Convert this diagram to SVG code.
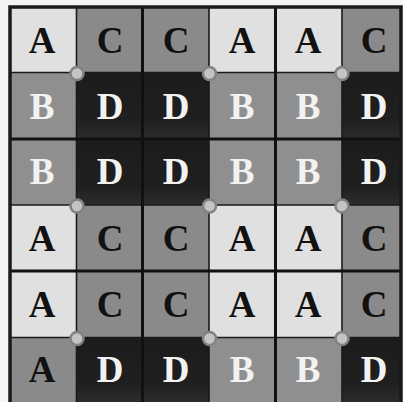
<svg xmlns="http://www.w3.org/2000/svg" width="403" height="402" viewBox="0 0 403 402">
<defs>
<style>
.a{fill:#e0e0e0}
.c{fill:#8a8a8a}
.b{fill:#8f8f8f}
.d{fill:url(#dg)}
text{font-family:"Liberation Serif","Times New Roman",serif;font-weight:bold;font-size:37px;text-anchor:middle}
.dk{fill:#111}
.lt{fill:#f2f2f2}
.thin{stroke:#1a1a1a;stroke-width:1.6;fill:none}
.thick{stroke:#111;stroke-width:3;fill:none}
.pin{fill:#c4c4c4;stroke:#828282;stroke-width:2.5}
</style>
<linearGradient id="dg" x1="0" y1="0" x2="0" y2="1">
<stop offset="0" stop-color="#1c1c1c"/>
<stop offset="0.7" stop-color="#1f1f1f"/>
<stop offset="1" stop-color="#2c2c2c"/>
</linearGradient>
</defs>
<rect x="0" y="0" width="403" height="402" fill="#f4f4f4"/>
<g id="cells">
<g id="r1c1"><rect class="a" x="10" y="6.5" width="66.5" height="66"/><text class="dk" x="42" y="53">A</text></g>
<g id="r1c2"><rect class="c" x="76.5" y="6.5" width="66" height="66"/><text class="dk" x="110" y="53">C</text></g>
<g id="r1c3"><rect class="c" x="142.5" y="6.5" width="66.5" height="66"/><text class="dk" x="176" y="53">C</text></g>
<g id="r1c4"><rect class="a" x="209" y="6.5" width="66.5" height="66"/><text class="dk" x="242" y="53">A</text></g>
<g id="r1c5"><rect class="a" x="275.5" y="6.5" width="66.5" height="66"/><text class="dk" x="308" y="53">A</text></g>
<g id="r1c6"><rect class="c" x="342" y="6.5" width="60" height="66"/><text class="dk" x="374" y="53">C</text></g>
<g id="r2c1"><rect class="b" x="10" y="72.5" width="66.5" height="66.5"/><text class="lt" x="42" y="119">B</text></g>
<g id="r2c2"><rect class="d" x="76.5" y="72.5" width="66" height="66.5"/><text class="lt" x="110" y="119">D</text></g>
<g id="r2c3"><rect class="d" x="142.5" y="72.5" width="66.5" height="66.5"/><text class="lt" x="176" y="119">D</text></g>
<g id="r2c4"><rect class="b" x="209" y="72.5" width="66.5" height="66.5"/><text class="lt" x="242" y="119">B</text></g>
<g id="r2c5"><rect class="b" x="275.5" y="72.5" width="66.5" height="66.5"/><text class="lt" x="308" y="119">B</text></g>
<g id="r2c6"><rect class="d" x="342" y="72.5" width="60" height="66.5"/><text class="lt" x="374" y="119">D</text></g>
<g id="r3c1"><rect class="b" x="10" y="139" width="66.5" height="66"/><text class="lt" x="42" y="184">B</text></g>
<g id="r3c2"><rect class="d" x="76.5" y="139" width="66" height="66"/><text class="lt" x="110" y="184">D</text></g>
<g id="r3c3"><rect class="d" x="142.5" y="139" width="66.5" height="66"/><text class="lt" x="176" y="184">D</text></g>
<g id="r3c4"><rect class="b" x="209" y="139" width="66.5" height="66"/><text class="lt" x="242" y="184">B</text></g>
<g id="r3c5"><rect class="b" x="275.5" y="139" width="66.5" height="66"/><text class="lt" x="308" y="184">B</text></g>
<g id="r3c6"><rect class="d" x="342" y="139" width="60" height="66"/><text class="lt" x="374" y="184">D</text></g>
<g id="r4c1"><rect class="a" x="10" y="205" width="66.5" height="66"/><text class="dk" x="42" y="251">A</text></g>
<g id="r4c2"><rect class="c" x="76.5" y="205" width="66" height="66"/><text class="dk" x="110" y="251">C</text></g>
<g id="r4c3"><rect class="c" x="142.5" y="205" width="66.5" height="66"/><text class="dk" x="176" y="251">C</text></g>
<g id="r4c4"><rect class="a" x="209" y="205" width="66.5" height="66"/><text class="dk" x="242" y="251">A</text></g>
<g id="r4c5"><rect class="a" x="275.5" y="205" width="66.5" height="66"/><text class="dk" x="308" y="251">A</text></g>
<g id="r4c6"><rect class="c" x="342" y="205" width="60" height="66"/><text class="dk" x="374" y="251">C</text></g>
<g id="r5c1"><rect class="a" x="10" y="271" width="66.5" height="66.5"/><text class="dk" x="42" y="317">A</text></g>
<g id="r5c2"><rect class="c" x="76.5" y="271" width="66" height="66.5"/><text class="dk" x="110" y="317">C</text></g>
<g id="r5c3"><rect class="c" x="142.5" y="271" width="66.5" height="66.5"/><text class="dk" x="176" y="317">C</text></g>
<g id="r5c4"><rect class="a" x="209" y="271" width="66.5" height="66.5"/><text class="dk" x="242" y="317">A</text></g>
<g id="r5c5"><rect class="a" x="275.5" y="271" width="66.5" height="66.5"/><text class="dk" x="308" y="317">A</text></g>
<g id="r5c6"><rect class="c" x="342" y="271" width="60" height="66.5"/><text class="dk" x="374" y="317">C</text></g>
<g id="r6c1"><rect class="c" x="10" y="337.5" width="66.5" height="65"/><text class="dk" x="42" y="382">A</text></g>
<g id="r6c2"><rect class="d" x="76.5" y="337.5" width="66" height="65"/><text class="lt" x="110" y="382">D</text></g>
<g id="r6c3"><rect class="d" x="142.5" y="337.5" width="66.5" height="65"/><text class="lt" x="176" y="382">D</text></g>
<g id="r6c4"><rect class="b" x="209" y="337.5" width="66.5" height="65"/><text class="lt" x="242" y="382">B</text></g>
<g id="r6c5"><rect class="b" x="275.5" y="337.5" width="66.5" height="65"/><text class="lt" x="308" y="382">B</text></g>
<g id="r6c6"><rect class="d" x="342" y="337.5" width="60" height="65"/><text class="lt" x="374" y="382">D</text></g>
</g>
<g id="connectors">
<path class="thin" d="M76.5 6.5V404M209 6.5V404M342 6.5V404M10 72.5H402M10 205H402M10 337.5H402"/>
<path class="thick" d="M142.5 6.5V404M275.5 6.5V404M10 139H402M10 271H402"/>
<path d="M10 404V7H401V404" fill="none" stroke="#1a1a1a" stroke-width="3.5"/>
</g>
<g id="pins">
<circle class="pin" cx="77" cy="73.5" r="6.5"/>
<circle class="pin" cx="209.5" cy="73.5" r="6.5"/>
<circle class="pin" cx="342" cy="73.5" r="6.5"/>
<circle class="pin" cx="77" cy="206" r="6.5"/>
<circle class="pin" cx="209.5" cy="206" r="6.5"/>
<circle class="pin" cx="342" cy="206" r="6.5"/>
<circle class="pin" cx="77" cy="338.5" r="6.5"/>
<circle class="pin" cx="209.5" cy="338.5" r="6.5"/>
<circle class="pin" cx="342" cy="338.5" r="6.5"/>
</g>
</svg>
